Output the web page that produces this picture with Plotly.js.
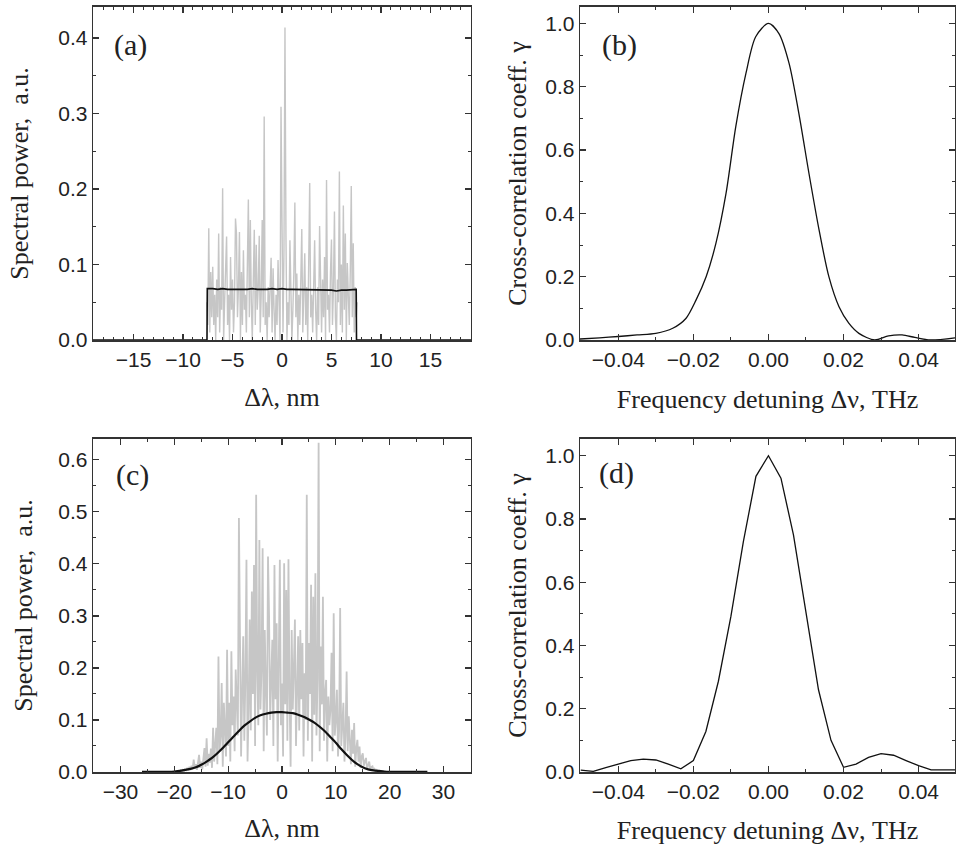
<!DOCTYPE html>
<html>
<head>
<meta charset="utf-8">
<script src="https://cdn.plot.ly/plotly-3.0.1.min.js"></script>
<style>html,body{margin:0;padding:0;background:#fff;}#plot{width:957px;height:848px;}</style>
</head>
<body>
<div id="plot"></div>
<script>
// ---------- Panel (a): spectral power, sampled every 0.1 nm from -7.6 nm ----------
const aGrayY = [
0.05,0.02,0.148,0.01,0.09,0.03,0.097,0.02,0.06,0.0,
0.08,0.03,0.141,0.01,0.07,0.04,0.201,0.0,0.05,0.09,
0.137,0.02,0.06,0.0,0.11,0.04,0.08,0.01,0.05,0.161,
0.141,0.03,0.07,0.143,0.0,0.09,0.02,0.119,0.04,0.06,
0.01,0.10,0.186,0.03,0.159,0.05,0.0,0.08,0.146,0.02,
0.126,0.04,0.07,0.138,0.01,0.06,0.159,0.03,0.296,0.02,
0.05,0.0,0.07,0.03,0.09,0.109,0.01,0.095,0.04,0.0,
0.06,0.02,0.106,0.05,0.0,0.309,0.08,0.01,0.12,0.414,
0.137,0.0,0.05,0.02,0.132,0.07,0.0,0.04,0.09,0.182,
0.03,0.088,0.0,0.06,0.02,0.08,0.147,0.01,0.05,0.115,
0.02,0.07,0.0,0.09,0.208,0.03,0.06,0.01,0.10,0.132,
0.04,0.0,0.07,0.02,0.151,0.05,0.01,0.08,0.03,0.11,
0.0,0.212,0.04,0.06,0.01,0.09,0.133,0.02,0.07,0.17,
0.03,0.0,0.08,0.05,0.223,0.02,0.10,0.01,0.178,0.04,
0.141,0.0,0.102,0.06,0.02,0.09,0.204,0.03,0.128,0.01,
0.07,0.03,0.05
];
const aBlackX = [-19.2,-7.58,-7.55,-7.0,-6.5,-6.0,-5.5,-5.0,-4.5,-4.0,-3.5,-3.0,-2.5,-2.0,-1.5,-1.0,-0.5,0.0,0.5,1.0,1.5,2.0,2.5,3.0,3.5,4.0,4.5,5.0,5.5,6.0,6.5,7.0,7.5,7.53,19.2];
const aBlackY = [0,0,0.068,0.068,0.067,0.068,0.067,0.067,0.066,0.067,0.067,0.068,0.067,0.067,0.067,0.068,0.067,0.068,0.067,0.067,0.067,0.066,0.067,0.067,0.066,0.066,0.066,0.066,0.065,0.066,0.066,0.066,0.067,0,0];

// ---------- Panel (b): cross-correlation coefficient ----------
const bX = [-0.0503,-0.045,-0.04,-0.035,-0.03,-0.0255,-0.022,-0.0193,-0.0166,-0.014,-0.0113,-0.0087,-0.006,-0.0034,0,0.0028,0.0055,0.0081,0.0108,0.0135,0.0161,0.0188,0.0214,0.0241,0.0283,0.032,0.0356,0.039,0.0431,0.0497];
const bY = [0.003,0.007,0.011,0.016,0.021,0.037,0.068,0.126,0.2,0.305,0.463,0.674,0.842,0.958,1.0,0.968,0.874,0.716,0.526,0.347,0.2,0.105,0.053,0.021,0.0,0.013,0.016,0.008,0.0,0.007];

// ---------- Panel (c): spectral power, sampled every 0.2 nm from -20 nm ----------
const cGrayY = [
0,0.001,0,0.002,0.001,0,0.003,0.001,0.004,0.002,
0.006,0.002,0.008,0.003,0.01,0.004,0.012,0.005,0.024,0.006,
0.015,0.004,0.018,0.033,0.008,0.02,0.005,0.025,0.046,0.01,
0.065,0.012,0.035,0.018,0.045,0.008,0.085,0.02,0.05,0.085,
0.015,0.222,0.04,0.07,0.171,0.01,0.133,0.06,0.03,0.235,
0.05,0.133,0.02,0.232,0.09,0.145,0.04,0.197,0.11,0.07,
0.488,0.257,0.03,0.15,0.261,0.06,0.18,0.408,0.02,0.12,
0.293,0.08,0.347,0.15,0.398,0.05,0.533,0.19,0.09,0.446,
0.12,0.2,0.43,0.04,0.273,0.16,0.07,0.414,0.299,0.1,
0.18,0.254,0.05,0.398,0.14,0.286,0.02,0.2,0.408,0.09,
0.17,0.03,0.401,0.13,0.35,0.06,0.409,0.15,0.01,0.273,
0.12,0.2,0.293,0.05,0.16,0.261,0.08,0.273,0.14,0.248,
0.03,0.19,0.1,0.533,0.06,0.248,0.15,0.36,0.02,0.337,
0.11,0.382,0.07,0.18,0.633,0.04,0.241,0.13,0.337,0.06,
0.15,0.177,0.02,0.145,0.09,0.12,0.229,0.04,0.305,0.07,
0.1,0.158,0.03,0.08,0.315,0.05,0.09,0.133,0.02,0.07,
0.193,0.04,0.107,0.06,0.015,0.081,0.035,0.094,0.01,0.045,
0.062,0.02,0.049,0.008,0.03,0.036,0.012,0.02,0.027,0.006,
0.015,0.02,0.004,0.01,0.011,0.003,0.006,0.002,0.004,0.001,0.002
];
// averaged spectrum, every 1 nm from -26 nm
const cBlackY = [
0.0005,0.0005,0.0005,0.0005,0.0005,0.0005,
0.001,0.002,0.004,0.006,0.009,0.014,0.02,0.027,0.036,0.046,0.057,0.068,0.079,0.089,0.097,0.104,0.109,0.112,0.114,0.115,
0.115,0.114,0.113,0.11,0.106,0.101,0.095,0.087,0.078,0.067,0.056,0.044,0.033,0.023,0.015,0.009,0.005,0.003,0.002,0.001,
0.0005,0.0005,0.0005,0.0005,0.0005,0.0005,0.0005,0.0005
];

// ---------- Panel (d): cross-correlation coefficient, step 1/300 THz from -0.05 ----------
const dY = [0.006,0.002,0.014,0.026,0.036,0.041,0.038,0.025,0.01,0.036,0.128,0.287,0.492,0.729,0.935,1.0,0.929,0.75,0.503,0.26,0.1,0.015,0.025,0.046,0.058,0.053,0.036,0.02,0.007,0.008,0.007];

const labels = ['(a)','(b)','(c)','(d)'];

const grayC = '#c6c6c6';
const sans = 'Liberation Sans, Arial, sans-serif';
const serif = 'Liberation Serif, Times New Roman, serif';

const traces = [
  {x0:-7.6, dx:0.1, y:aGrayY, type:'scatter', mode:'lines', line:{color:grayC, width:1.4}, xaxis:'x', yaxis:'y'},
  {x:aBlackX, y:aBlackY, type:'scatter', mode:'lines', line:{color:'#111', width:1.6}, xaxis:'x', yaxis:'y'},
  {x:bX, y:bY, type:'scatter', mode:'lines', line:{color:'#111', width:1.3, shape:'spline', smoothing:0.8}, xaxis:'x2', yaxis:'y2'},
  {x0:-20, dx:0.2, y:cGrayY, type:'scatter', mode:'lines', line:{color:grayC, width:1.8}, xaxis:'x3', yaxis:'y3'},
  {x0:-26, dx:1, y:cBlackY, type:'scatter', mode:'lines', line:{color:'#111', width:2.2, shape:'spline', smoothing:0.6}, xaxis:'x3', yaxis:'y3'},
  {x0:-0.05, dx:0.00333333, y:dY, type:'scatter', mode:'lines', line:{color:'#111', width:1.3}, xaxis:'x4', yaxis:'y4'}
];

function xax(domain, range, dtick, minor, fmt, title, standoff, anchor) {
  return {
    domain: domain, range: range, dtick: dtick, tick0: 0, tickformat: fmt,
    ticks: 'inside', ticklen: 6, tickwidth: 1.2, tickcolor: '#333',
    minor: {dtick: minor, ticks: 'inside', ticklen: 3, tickwidth: 1, tickcolor: '#333'},
    showline: true, linecolor: '#333', linewidth: 2, mirror: 'ticks',
    showgrid: false, zeroline: false, anchor: anchor,
    tickfont: {family: sans, size: 21, color: '#222'},
    title: {text: title, font: {family: serif, size: 26, color: '#222'}, standoff: standoff}
  };
}
function yax(domain, range, dtick, minor, title, standoff, anchor) {
  return {
    domain: domain, range: range, dtick: dtick, tick0: 0, tickformat: '.1f',
    ticks: 'inside', ticklen: 6, tickwidth: 1.2, tickcolor: '#333',
    minor: {dtick: minor, ticks: 'inside', ticklen: 3, tickwidth: 1, tickcolor: '#333'},
    showline: true, linecolor: '#333', linewidth: 1.3, mirror: 'ticks',
    showgrid: false, zeroline: false, anchor: anchor,
    tickfont: {family: sans, size: 21, color: '#222'},
    title: {text: title, font: {family: serif, size: 26, color: '#222'}, standoff: standoff}
  };
}

const W = 957, H = 848;
const dxA = [93/W, 471/W], dxB = [580/W, 955/W];
const dyTop = [1-340/H, 1-7/H], dyBot = [1-772/H, 1-439/H];

const layout = {
  width: W, height: H, margin: {l:0, r:0, t:0, b:0},
  paper_bgcolor: '#fff', plot_bgcolor: '#fff', showlegend: false,
  xaxis: xax(dxA, [-19.1, 19.1], 5, 1, 'd', '\u0394\u03bb, nm', 18, 'y'),
  yaxis: yax(dyTop, [0, 0.441], 0.1, 0.05, 'Spectral power,\u00a0 a.u.', 22, 'x'),
  xaxis2: xax(dxB, [-0.0502, 0.0497], 0.02, 0.01, '.2f', 'Frequency detuning \u0394\u03bd, THz', 20, 'y2'),
  yaxis2: yax(dyTop, [0, 1.052], 0.2, 0.1, 'Cross-correlation coeff. \u03b3', 11, 'x2'),
  xaxis3: xax(dxA, [-35.1, 35.1], 10, 5, 'd', '\u0394\u03bb, nm', 17, 'y3'),
  yaxis3: yax(dyBot, [0, 0.64], 0.1, 0.05, 'Spectral power,\u00a0 a.u.', 18, 'x3'),
  xaxis4: xax(dxB, [-0.0502, 0.0497], 0.02, 0.01, '.2f', 'Frequency detuning \u0394\u03bd, THz', 19, 'y4'),
  yaxis4: yax(dyBot, [0, 1.053], 0.2, 0.1, 'Cross-correlation coeff. \u03b3', 11, 'x4'),
  annotations: [
    {text: labels[0], x: 112/W, y: 1-45/H},
    {text: labels[1], x: 600/W, y: 1-45/H},
    {text: labels[2], x: 114/W, y: 1-475/H},
    {text: labels[3], x: 597/W, y: 1-473/H}
  ].map(a => Object.assign(a, {xref:'paper', yref:'paper', xanchor:'left', yanchor:'middle', showarrow:false, font:{family: serif, size: 30, color:'#222'}}))
};

Plotly.newPlot('plot', traces, layout, {staticPlot: true, displayModeBar: false});
</script>
</body>
</html>
